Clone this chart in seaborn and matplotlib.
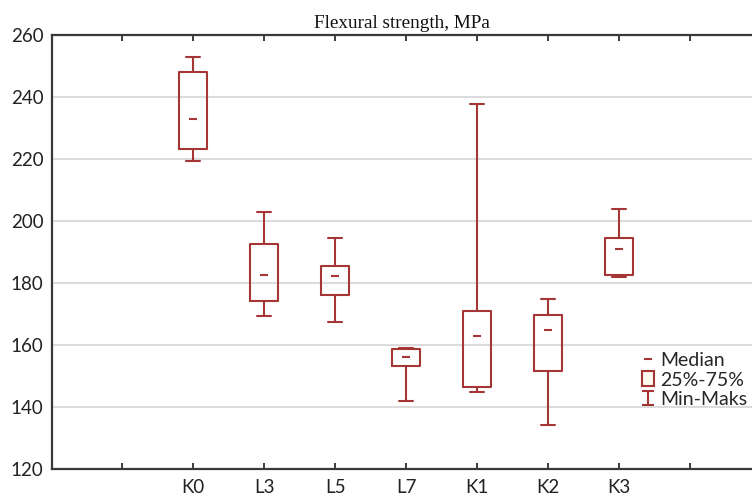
import matplotlib
matplotlib.use("Agg")
import matplotlib.pyplot as plt
from matplotlib.lines import Line2D
from matplotlib.patches import Rectangle
from matplotlib.path import Path
import seaborn as sns
import pandas as pd

# Five-number summaries: min, Q1, median, Q3, max
groups = ["K0", "L3", "L5", "L7", "K1", "K2", "K3"]
k0 = [219.4, 223.2, 232.9, 248.1, 252.9]
l3 = [169.4, 174.2, 182.6, 192.6, 202.9]
l5 = [167.4, 176.1, 182.3, 185.5, 194.5]
l7 = [141.9, 153.3, 156.2, 158.7, 158.9]
k1 = [145.0, 146.5, 162.9, 171.1, 237.6]
k2 = [134.3, 151.5, 164.8, 169.6, 174.9]
k3 = [181.8, 182.7, 191.0, 194.5, 204.0]
series = [k0, l3, l5, l7, k1, k2, k3]
order = [""] + groups + [" "]
yticks = [120, 140, 160, 180, 200, 220, 240, 260]
title = "Flexural strength, MPa"
legend_labels = ["Median", "25%-75%", "Min-Maks"]

rows = [(g, v) for g, vals in zip(groups, series) for v in vals]
df = pd.DataFrame(rows, columns=["group", "value"])

sns.set_theme(style="white")
plt.rcParams["font.family"] = ["Lato", "DejaVu Sans"]

red = "#a63636"
fig = plt.figure(figsize=(7.52, 4.97), dpi=100)
ax = fig.add_axes([52 / 752, 1 - 469 / 497, 700 / 752, 434 / 497])

sns.boxplot(data=df, x="group", y="value", order=order, whis=(0, 100),
            width=0.4, fill=False, color=red, linewidth=1.5,
            medianprops=dict(linewidth=0), showfliers=False, ax=ax)
sns.pointplot(data=df, x="group", y="value", order=order, estimator="median",
              errorbar=None, markers="_", linestyles="none", color=red,
              markersize=6, markeredgewidth=1.5, ax=ax)

ax.set_xlim(-0.99, 8.87)
ax.set_ylim(120, 260)
ax.set_yticks(yticks)
ax.set_xlabel("")
ax.set_ylabel("")
ax.yaxis.grid(True, color="#dcdcdc", linewidth=1.5)
ax.set_axisbelow(True)

for s in ["left", "bottom", "top"]:
    ax.spines[s].set_color("#3a3a3a")
    ax.spines[s].set_linewidth(1.6)
ax.spines["right"].set_visible(False)

ax.tick_params(axis="x", which="both", direction="in", top=True, bottom=True,
               length=4, width=1.4, color="#3a3a3a", labelsize=13.5, pad=7,
               labelcolor="#222222")
ax.tick_params(axis="y", length=0, labelsize=13.5, pad=6, labelcolor="#222222")

ax.set_title(title, family="Liberation Serif", fontsize=13.8, pad=5,
             color="#111111")

ibeam = Path([(-0.85, 1), (0.85, 1), (0, 1), (0, -1), (-0.85, -1), (0.85, -1)],
             [Path.MOVETO, Path.LINETO, Path.MOVETO, Path.LINETO,
              Path.MOVETO, Path.LINETO])
handles = [
    Line2D([], [], marker="_", linestyle="none", color=red, markersize=6,
           markeredgewidth=1.5),
    Rectangle((0, 0), 1, 1, facecolor="#fffaf0", edgecolor=red, linewidth=1.5),
    Line2D([], [], marker=ibeam, linestyle="none", color=red, markersize=10,
           markeredgewidth=1.5, markerfacecolor="none"),
]
ax.legend(handles, legend_labels, loc="center left",
          bbox_to_anchor=(0.843, 0.205), frameon=False, fontsize=14,
          handlelength=0.6, handleheight=0.8, handletextpad=0.35,
          labelspacing=0.12, borderpad=0, borderaxespad=0)

fig.savefig("out.png", dpi=100)
